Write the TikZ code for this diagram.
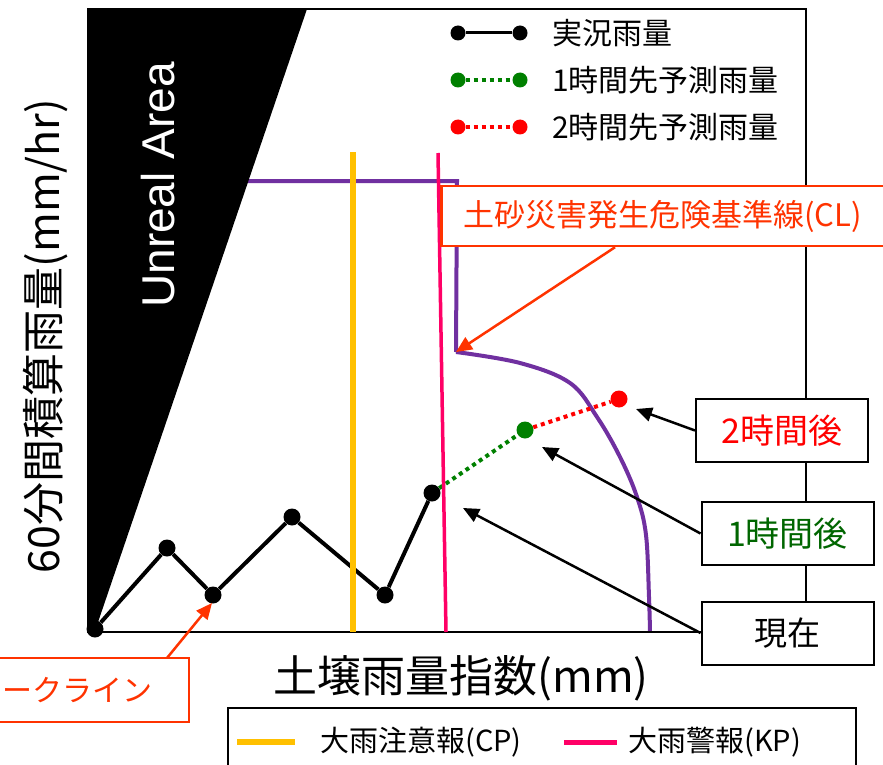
\documentclass[tikz,border=0pt]{standalone}
\usepackage{fontspec}
\setmainfont{Noto Sans CJK JP}
\newfontfamily\arialf{Liberation Sans}
\usetikzlibrary{arrows.meta}
\definecolor{orred}{HTML}{FF3300}
\definecolor{clpurple}{HTML}{7030A0}
\definecolor{kppink}{HTML}{FF0066}
\definecolor{cpyellow}{HTML}{FFC000}
\definecolor{fgreen}{HTML}{008000}
\definecolor{tgreen}{HTML}{006600}
\newcommand{\fsz}[1]{\fontsize{#1}{#1}\selectfont}
\begin{document}
\begin{tikzpicture}[x=1pt,y=-1pt,
  dot/.style={circle, fill=black, inner sep=0pt, minimum size=17pt},
  ldot/.style={circle, fill=black, inner sep=0pt, minimum size=15pt},
  obs/.style={line width=4pt, black},
  gdots/.style={line width=4pt, fgreen, dash pattern=on 4pt off 4pt},
  rdots/.style={line width=4pt, red, dash pattern=on 4pt off 4pt},
  cline/.style={line width=4pt, clpurple},
  kpline/.style={line width=3.5pt, kppink},
  cpline/.style={line width=6pt, cpyellow},
  legtext/.style={anchor=west, inner sep=0pt, font=\fsz{30}},
  lbl/.style={draw=black, line width=2pt, fill=white, minimum width=172pt, minimum height=63pt, inner sep=0pt, font=\fsz{34}},
  arr/.style={line width=2.5pt, black, -{Triangle[length=16pt,width=14pt]}},
  oarr/.style={line width=2.5pt, orred, -{Triangle[length=16pt,width=14pt]}},
  obox/.style={draw=orred, line width=2.5pt, fill=white, text=orred, minimum height=60pt}
]
\useasboundingbox (0,0) rectangle (883,765);
% CL line
\draw[cline] (240,181) -- (457,181) -- (456,352)
  plot[smooth, tension=0.6] coordinates {(456,352) (520,363) (570,383) (597,417) (620,457) (637,497) (646,535) (649,597) (650,632)};
% unreal area
\fill[black] (88,9) -- (307,9) -- (95,631) -- (88,631) -- cycle;
\node[rotate=90, text=white, inner sep=0pt, font=\arialf\fontsize{46}{46}\selectfont] (unreal) at (158,185) {Unreal Area};
% frame
\draw[line width=2pt] (88,9) rectangle (806,632);
% data
\node[dot] (p0) at (95,629) {};
\node[dot] (p1) at (167,548) {};
\node[dot] (p2) at (213,595) {};
\node[dot] (p3) at (292,517) {};
\node[dot] (p4) at (385,595) {};
\node[dot] (p5) at (432,493) {};
\node[dot, fill=fgreen] (g1) at (525,430) {};
\node[dot, fill=red] (r2) at (619,399) {};
\draw[obs] (p0) -- (p1) -- (p2) -- (p3) -- (p4) -- (p5);
\draw[gdots] (p5) -- (g1);
\draw[rdots] (g1) -- (r2);
% warning lines
\draw[cpline] (353,152) -- (353,632);
\draw[kpline] (438,153) -- (446,632);
% top legend
\node[ldot] (la1) at (458,33) {};
\node[ldot] (la2) at (520,33) {};
\draw[line width=3pt] (la1) -- (la2);
\node[legtext] (lt1) at (552,33) {実況雨量};
\node[ldot, fill=fgreen] (lb1) at (458,80) {};
\node[ldot, fill=fgreen] (lb2) at (520,80) {};
\draw[gdots] (lb1) -- (lb2);
\node[legtext] (lt2) at (552,80) {1時間先予測雨量};
\node[ldot, fill=red] (lc1) at (458,127) {};
\node[ldot, fill=red] (lc2) at (520,127) {};
\draw[rdots] (lc1) -- (lc2);
\node[legtext] (lt3) at (552,127) {2時間先予測雨量};
% labels
\node[lbl, text=red] (h2) at (782,430.5) {2時間後};
\node[lbl, text=tgreen] (h1) at (787.5,533.5) {1時間後};
\node[lbl, font=\fsz{33}] (now) at (787.5,633) {現在};
\coordinate (t2) at (636,409);
\coordinate (t1) at (542,447);
\coordinate (t0) at (463,508);
\draw[arr] (h2.west) -- (t2);
\draw[arr] (h1.west) -- (t1);
\draw[arr] (now.west) -- (t0);
% CL label
\node[obox, anchor=west, inner xsep=22pt, text width=440pt, align=left, font=\fsz{31}] (cl) at (440,216) {土砂災害発生危険基準線(CL)};
\coordinate (clt) at (456,352);
\draw[oarr] ([xshift=175pt]cl.south west) -- (clt);
% snake line label
\node[obox, anchor=east, minimum width=220pt, minimum height=64pt, inner sep=0pt] (snakebox) at (190,690) {};
\node[anchor=west, inner sep=0pt, text=orred, font=\fsz{30}] (snake) at (2,690) {ークライン};
\coordinate (sns) at (167,658);
\coordinate (snt) at (212,603);
\draw[oarr] (sns) -- (snt);
% axis labels
\node[inner sep=0pt, font=\fsz{44}] (xlab) at (461,678) {土壌雨量指数(mm)};
\node[rotate=90, inner sep=0pt, font=\fsz{43}] (ylab) at (46,336) {60分間積算雨量(mm/hr)};
% bottom legend
\node[draw, line width=1.5pt, fill=white, minimum width=628pt, minimum height=90pt, anchor=north west, inner sep=0pt] (legbox) at (227,707) {};
\coordinate (cy1) at (237,742);
\coordinate (cy2) at (295,742);
\draw[line width=6pt, cpyellow] (cy1) -- (cy2);
\node[legtext, font=\fsz{29}] (cpt) at (320,742) {大雨注意報(CP)};
\coordinate (ck1) at (564,742);
\coordinate (ck2) at (617,742);
\draw[line width=5pt, kppink] (ck1) -- (ck2);
\node[legtext, font=\fsz{29}] (kpt) at (628,742) {大雨警報(KP)};
\end{tikzpicture}
\end{document}
